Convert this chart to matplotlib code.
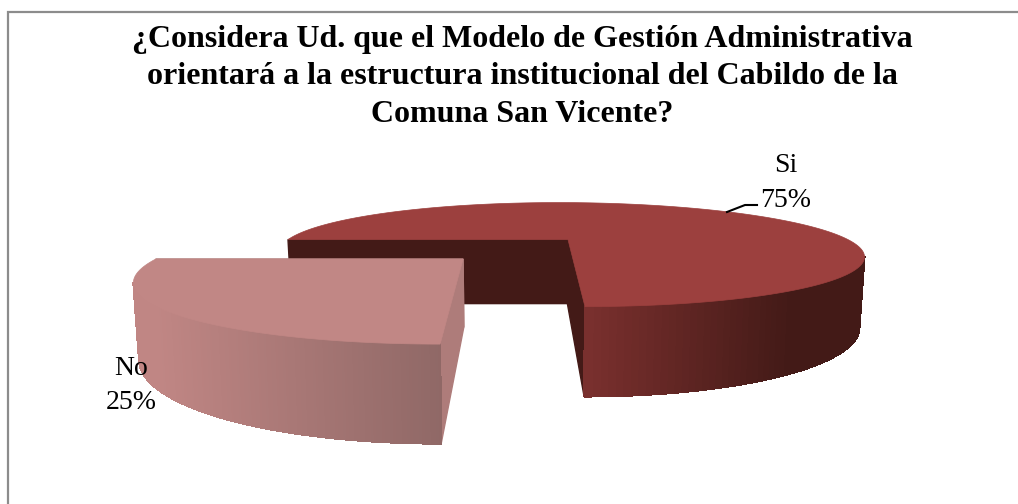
import matplotlib
matplotlib.use("Agg")
import matplotlib.pyplot as plt
from matplotlib.collections import PolyCollection
from matplotlib.patches import Polygon
import numpy as np

title = "¿Considera Ud. que el Modelo de Gestión Administrativa\norientará a la estructura institucional del Cabildo de la\nComuna San Vicente?"
labels = ["Si", "No"]
values = [75, 25]

# perspective camera, all in pixels
vanishX = [526, 513]
horizonY = 74
camHeight = 165.6
radius = [280, 275]
tilt = [0.288, 0.282]
wallShrink = 0.985

# where each slice sits on the table (exploded pie)
offsetX = [42, -44.7]
offsetY = [0.0, 0.372]
depth = [64, 61]

topColor = ["#9c403e", "#c18785"]
radialColor = ["#431a17", "#ae7c7a"]
wallStart = [np.array([0x7a, 0x30, 0x2e]) / 255, np.array([0xc0, 0x86, 0x84]) / 255]
wallEnd = [np.array([0x43, 0x1a, 0x17]) / 255, np.array([0x8f, 0x68, 0x66]) / 255]
gradX = [(585, 790), (155, 442)]


def project(i, u, v, bottom=False):
    d = 1 - tilt[i] * (v + offsetY[i])
    x = (offsetX[i] + u * radius[i]) / d
    y = camHeight / d
    if bottom:
        x = x * wallShrink
        y = y + depth[i] / d
    return vanishX[i] + x, horizonY + y


def sliceAngles(i):
    total = sum(values)
    start = 2 * np.pi * sum(values[:i]) / total
    end = 2 * np.pi * sum(values[:i + 1]) / total
    return np.linspace(start, end, 240)


def drawSlice(ax, i):
    t = sliceAngles(i)
    u, v = -np.cos(t), -np.sin(t)
    xt, yt = project(i, u, v)
    xb, yb = project(i, u, v, bottom=True)

    # the two cut faces go first, outer wall may hide them
    ax0, ay0 = project(i, 0, 0)
    bx0, by0 = project(i, 0, 0, bottom=True)
    for k in (0, -1):
        face = [(ax0, ay0), (xt[k], yt[k]), (xb[k], yb[k]), (bx0, by0)]
        ax.add_patch(Polygon(face, closed=True, fc=radialColor[i], ec=radialColor[i], lw=1, zorder=2 + i * 3))

    # outer wall with horizontal shading, only the part facing us
    quads, cols = [], []
    x0, x1 = gradX[i]
    for k in range(len(t) - 1):
        if xt[k + 1] >= xt[k]:
            continue
        quads.append([(xt[k], yt[k]), (xt[k + 1], yt[k + 1]), (xb[k + 1], yb[k + 1]), (xb[k], yb[k])])
        f = np.clip(((xt[k] + xt[k + 1]) / 2 - x0) / (x1 - x0), 0, 1)
        cols.append(wallStart[i] * (1 - f) + wallEnd[i] * f)
    ax.add_collection(PolyCollection(quads, facecolors=cols, edgecolors=cols, linewidths=0.8, antialiaseds=False, zorder=3 + i * 3))

    top = [(ax0, ay0)] + list(zip(xt, yt))
    ax.add_patch(Polygon(top, closed=True, fc=topColor[i], ec=topColor[i], lw=0.5, zorder=4 + i * 3))


def main():
    plt.rcParams["font.family"] = ["Liberation Serif", "DejaVu Serif"]
    fig = plt.figure(figsize=(10.18, 5.04), dpi=100)
    ax = fig.add_axes([0, 0, 1, 1])
    ax.set_xlim(0, 1018)
    ax.set_ylim(504, 0)
    ax.axis("off")

    # chart frame, only left and top are inside the crop
    ax.plot([8.5, 8.5, 1018], [504, 12, 12], color="#8c8c8c", lw=1.6, solid_joinstyle="miter")

    ax.text(522, 77, title, ha="center", va="center", fontsize=23, fontweight="bold", color="black", linespacing=1.375)

    for i in range(len(values)):
        drawSlice(ax, i)

    ax.plot([727, 745, 757], [212, 205, 205], color="black", lw=1.5, zorder=10)
    ax.text(786, 183, labels[0] + "\n" + str(values[0]) + "%", ha="center", va="center", fontsize=20, linespacing=1.48, zorder=11)
    ax.text(131, 385.5, labels[1] + "\n" + str(values[1]) + "%", ha="center", va="center", fontsize=20, linespacing=1.48, zorder=11)

    fig.savefig("out.png", dpi=100)


if __name__ == "__main__":
    main()
